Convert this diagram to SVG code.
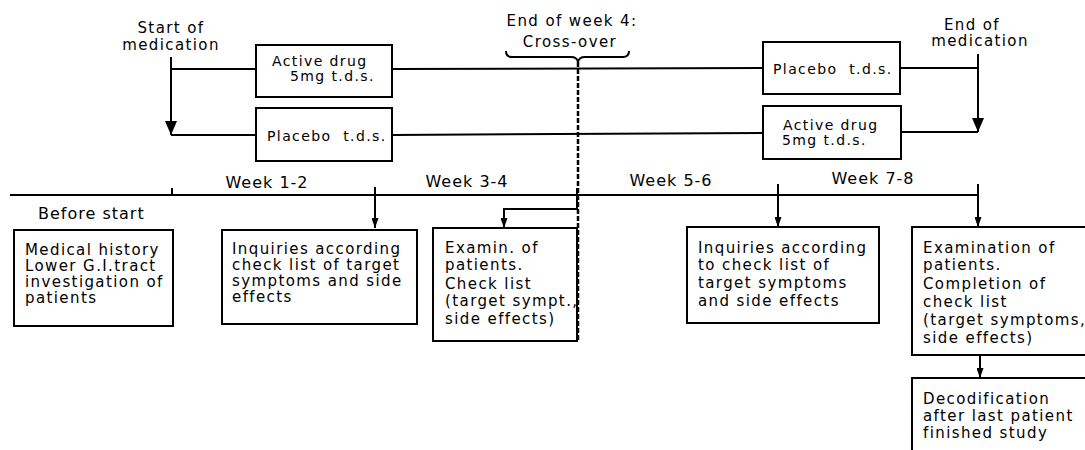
<svg xmlns="http://www.w3.org/2000/svg" width="1085" height="450" viewBox="0 0 1085 450">
<style>
text{font-family:"DejaVu Sans",sans-serif;fill:#000}
.lbl{font-size:16px;letter-spacing:1px}
.lbl2{font-size:15px;letter-spacing:1.4px}
.mid{text-anchor:middle}
.bx{font-size:15px;letter-spacing:1.4px}
.dr{font-size:14px;letter-spacing:1.4px;white-space:pre}
.box{fill:#fff;stroke:#000;stroke-width:2}
.ln{fill:none;stroke:#000;stroke-width:2}
.dash{fill:none;stroke:#000;stroke-width:2.5;stroke-dasharray:5 2}
</style>
<defs>
<marker id="big" markerUnits="userSpaceOnUse" markerWidth="14" markerHeight="12" refX="14" refY="6" orient="auto" viewBox="0 0 14 12">
<path d="M0,0 L14,6 L0,12 Z" fill="#000"/>
</marker>
<marker id="sm" markerUnits="userSpaceOnUse" markerWidth="10" markerHeight="7" refX="10" refY="3.5" orient="auto" viewBox="0 0 10 7">
<path d="M0,0 L10,3.5 L0,7 Z" fill="#000"/>
</marker>
</defs>
<rect width="1085" height="450" fill="#fff"/>

<g id="labels">
<text class="lbl2 mid" x="171" y="33">Start of</text>
<text class="lbl2 mid" x="171" y="50">medication</text>
<text class="lbl2 mid" x="572" y="26">End of week 4:</text>
<text class="lbl2 mid" x="570" y="47">Cross-over</text>
<text class="lbl2 mid" x="972" y="30">End of</text>
<text class="lbl2 mid" x="980" y="46">medication</text>
<text class="lbl mid" x="267" y="188">Week 1-2</text>
<text class="lbl mid" x="467" y="187">Week 3-4</text>
<text class="lbl mid" x="671" y="186">Week 5-6</text>
<text class="lbl mid" x="873" y="184">Week 7-8</text>
<text class="lbl" x="38" y="219">Before start</text>
</g>

<g id="connectors">
<line class="ln" x1="171" y1="57" x2="171" y2="135" marker-end="url(#big)"/>
<line class="ln" x1="171" y1="69" x2="256" y2="69"/>
<line class="ln" x1="171" y1="135" x2="256" y2="135"/>
<line class="ln" x1="392" y1="69" x2="763" y2="68"/>
<line class="ln" x1="392" y1="135" x2="763" y2="133"/>
<line class="ln" x1="900" y1="68" x2="978" y2="68"/>
<line class="ln" x1="901" y1="132" x2="978" y2="132"/>
<line class="ln" x1="978" y1="54" x2="978" y2="132" marker-end="url(#big)"/>
<path class="ln" d="M506,51 Q506,57 512,57 L571,57 Q577,57 578,62 Q579,57 585,57 L623,57 Q629,57 629,51" stroke-width="1.8"/>
<line class="dash" x1="578" y1="62" x2="578" y2="341"/>
<line class="ln" x1="10" y1="195" x2="978" y2="195"/>
<line class="ln" x1="172" y1="188" x2="172" y2="195"/>
<line class="ln" x1="375" y1="187" x2="375" y2="228" marker-end="url(#sm)"/>
<path class="ln" d="M577,188 L577,209 L504,209 L504,228" marker-end="url(#sm)"/>
<line class="ln" x1="778" y1="184" x2="778" y2="227" marker-end="url(#sm)"/>
<line class="ln" x1="978" y1="184" x2="978" y2="227" marker-end="url(#sm)"/>
<line class="ln" x1="980" y1="355" x2="980" y2="378" marker-end="url(#sm)"/>
</g>

<g id="active1">
<rect class="box" x="256" y="45" width="136" height="52"/>
<text class="dr" x="272" y="66">Active drug</text>
<text class="dr" x="290" y="81">5mg t.d.s.</text>
</g>
<g id="placebo1">
<rect class="box" x="256" y="108" width="136" height="53"/>
<text class="dr" x="267" y="141">Placebo  t.d.s.</text>
</g>
<g id="placebo2">
<rect class="box" x="763" y="42" width="137" height="52"/>
<text class="dr" x="773" y="74">Placebo  t.d.s.</text>
</g>
<g id="active2">
<rect class="box" x="763" y="106" width="138" height="53"/>
<text class="dr" x="783" y="130">Active drug</text>
<text class="dr" x="782" y="145">5mg t.d.s.</text>
</g>

<g id="history">
<rect class="box" x="14" y="230" width="159" height="96"/>
<text class="bx" x="25" y="255">Medical history</text>
<text class="bx" x="25" y="271">Lower G.I.tract</text>
<text class="bx" x="25" y="287">investigation of</text>
<text class="bx" x="25" y="303">patients</text>
</g>
<g id="inquiries1">
<rect class="box" x="222" y="230" width="195" height="94"/>
<text class="bx" x="232" y="254">Inquiries according</text>
<text class="bx" x="232" y="270">check list of target</text>
<text class="bx" x="232" y="286">symptoms and side</text>
<text class="bx" x="232" y="302">effects</text>
</g>
<g id="examin1">
<rect class="box" x="433" y="228" width="144" height="113"/>
<text class="bx" x="445" y="253">Examin. of</text>
<text class="bx" x="445" y="270">patients.</text>
<text class="bx" x="445" y="289">Check list</text>
<text class="bx" x="445" y="306">(target sympt.,</text>
<text class="bx" x="445" y="324">side effects)</text>
</g>
<g id="inquiries2">
<rect class="box" x="687" y="227" width="192" height="96"/>
<text class="bx" x="698" y="253">Inquiries according</text>
<text class="bx" x="698" y="270">to check list of</text>
<text class="bx" x="698" y="288">target symptoms</text>
<text class="bx" x="698" y="306">and side effects</text>
</g>
<g id="examin2">
<rect class="box" x="912" y="227" width="200" height="128"/>
<text class="bx" x="923" y="253">Examination of</text>
<text class="bx" x="923" y="270">patients.</text>
<text class="bx" x="923" y="289">Completion of</text>
<text class="bx" x="923" y="307">check list</text>
<text class="bx" x="923" y="325">(target symptoms,</text>
<text class="bx" x="923" y="343">side effects)</text>
</g>
<g id="decodification">
<rect class="box" x="912" y="378" width="200" height="100"/>
<text class="bx" x="923" y="404">Decodification</text>
<text class="bx" x="923" y="421">after last patient</text>
<text class="bx" x="923" y="438">finished study</text>
</g>
</svg>
